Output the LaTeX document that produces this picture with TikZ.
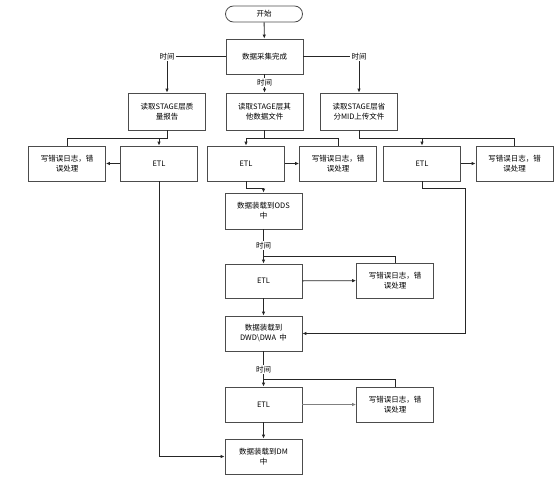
\documentclass[tikz,border=0pt]{standalone}
\usepackage{fontspec}
\newfontfamily\cjk{Noto Sans CJK SC}
\usepackage{tikz}
\usetikzlibrary{arrows.meta}
\usetikzlibrary{calc}
\usetikzlibrary{positioning}

\begin{document}
\begin{tikzpicture}[
			x=1pt, y=-1pt,
			every node/.style={font=\cjk\fontsize{7.5}{10}\selectfont},
			box/.style={draw=black!70, line width=0.8pt, minimum width=77pt, minimum height=35pt, align=center, inner sep=1pt},
			link/.style={draw=black!85, line width=0.8pt, -{Latex[length=4pt,width=3.5pt]}},
			wire/.style={draw=black!85, line width=0.8pt},
			lbl/.style={fill=white, inner sep=1pt}
		]
		\useasboundingbox (0,0) rectangle (554,479);
		\node[box, minimum height=16pt, rounded corners=8pt] (start) at (264,14) {开始};
		\node[box] (collect) at (264.5,56.5) {数据采集完成};
		% three readers
		\node[box, minimum height=37pt] (q1) at (167,111.5) {读取STAGE层质\\量报告};
		\node[box, minimum height=37pt] (q2) at (264.5,111.5) {读取STAGE层其\\他数据文件};
		\node[box, minimum height=37pt] (q3) at (359,111.5) {读取STAGE层省\\分MID上传文件};
		\node[box] (err1) at (67,163.5) {写错误日志，错\\误处理};
		\node[box] (etl1) at (159,163.5) {ETL};
		\node[box] (etl2) at (246,163.5) {ETL};
		\node[box] (err2) at (338,163.5) {写错误日志，错\\误处理};
		\node[box] (etl3) at (422,163.5) {ETL};
		\node[box] (err3) at (514.5,163.5) {写错误日志，错\\误处理};
		% main column
		\node[box, minimum height=36pt] (ods) at (263.5,211) {数据装载到ODS\\中};
		\node[box, minimum height=34pt] (etl4) at (263.5,281) {ETL};
		\node[box] (err4) at (395,280.5) {写错误日志，错\\误处理};
		\node[box] (dwd) at (263.5,333.5) {数据装载到\\DWD\textbackslash DWA\ \ 中};
		\node[box] (etl5) at (263.5,404.5) {ETL};
		\node[box] (err5) at (395,404.5) {写错误日志，错\\误处理};
		\node[box] (dm) at (263.5,456.5) {数据装载到DM\\中};
		% time labels
		\node[lbl] (t1) at (167,56.5) {时间};
		\node[lbl] (t3) at (359,56.5) {时间};
		\coordinate (j1) at (159,138);
		\coordinate (j2) at (246,138);
		\coordinate (j3) at (422,138);
		\coordinate (j4) at (263.5,188);
		\coordinate (r1) at (465,188);
		\coordinate (j5) at (263.5,256);
		\coordinate (j6) at (263.5,379);

		\draw[link] (start) -- (collect);
		\draw[wire] (collect.west) -- (t1.east);
		\draw[link] (t1.south) -- (q1.north);
		\draw[wire] (collect.east) -- (t3.west);
		\draw[link] (t3.south) -- (q3.north);
		\draw[link] (collect) -- node[lbl, pos=0.45] (t2) {时间} (q2);

		\draw[wire] (q1.south) |- (j1);
		\draw[wire] (err1.north) |- (j1);
		\draw[link] (j1) -- (etl1.north);
		\draw[link] (etl1) -- (err1);
		\draw[wire] (q2.south) |- (j2);
		\draw[wire] (err2.north) |- (j2);
		\draw[link] (j2) -- (etl2.north);
		\draw[link] (etl2) -- (err2);
		\draw[wire] (q3.south) |- (j3);
		\draw[wire] (err3.north) |- (j3);
		\draw[link] (j3) -- (etl3.north);
		\draw[link] (etl3) -- (err3);

		\draw[link] (etl1.south) |- (dm.west);
		\draw[wire] (etl2.south) |- (j4);
		\draw[link] (j4) -- (ods.north);
		\draw[link] (etl3.south) |- (r1) |- (dwd.east);

		\draw[wire] (ods.south) -- node[lbl, pos=0.6] (t4) {时间} (j5);
		\draw[link] (j5) -- (etl4.north);
		\draw[wire] (err4.north) |- (j5);
		\draw[link] (etl4) -- (err4);
		\draw[link] (etl4) -- (dwd);

		\draw[wire] (dwd.south) -- node[lbl, pos=0.65] (t5) {时间} (j6);
		\draw[link] (j6) -- (etl5.north);
		\draw[wire] (err5.north) |- (j6);
		\draw[link, draw=black!50] (etl5) -- (err5);
		\draw[link] (etl5) -- (dm);
	\end{tikzpicture}
\end{document}
